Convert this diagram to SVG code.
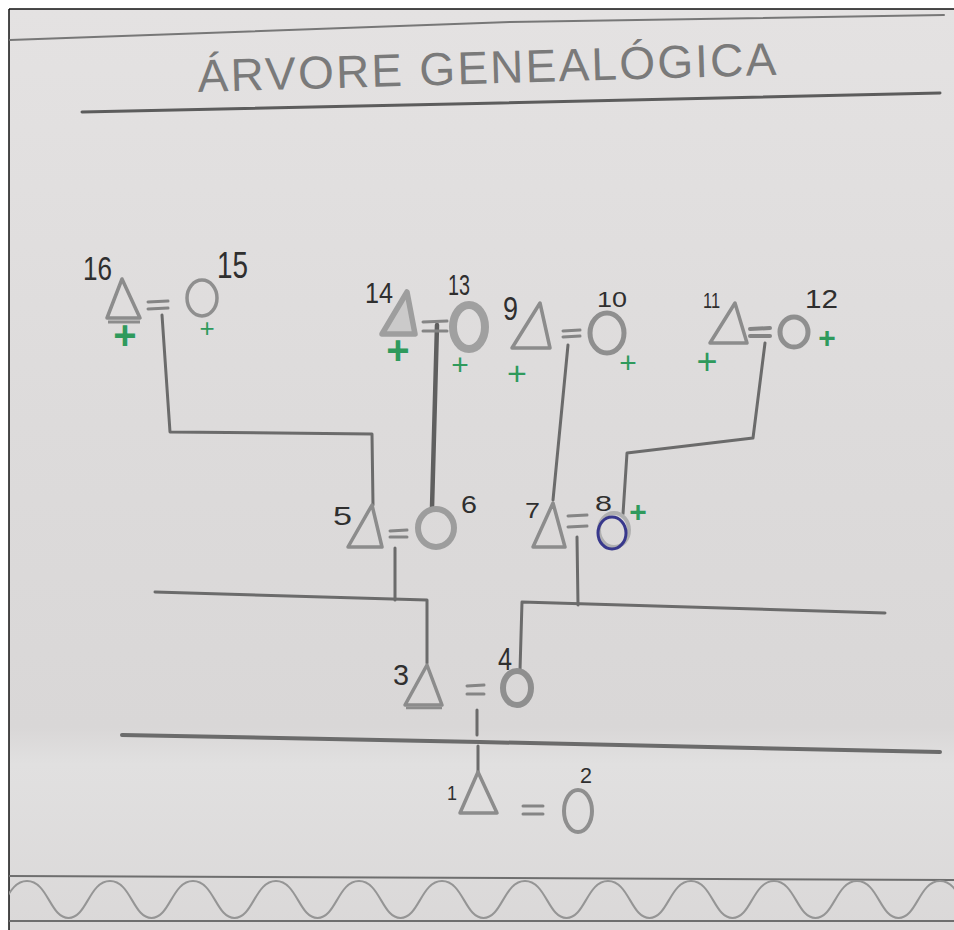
<svg xmlns="http://www.w3.org/2000/svg" width="954" height="930" viewBox="0 0 954 930">
<defs>
<linearGradient id="paper" x1="0" y1="0" x2="0" y2="1">
<stop offset="0" stop-color="#e4e2e2"/>
<stop offset="0.45" stop-color="#dddbdb"/>
<stop offset="0.78" stop-color="#d9d7d7"/>
<stop offset="0.82" stop-color="#e1e0e0"/>
<stop offset="1" stop-color="#dad8d8"/>
</linearGradient>
<clipPath id="pc"><rect x="9" y="9" width="945" height="921"/></clipPath>
<style>
.ln{fill:none;stroke:#6b6b6b;stroke-width:3;stroke-linecap:round;stroke-linejoin:round}
.tri{fill:none;stroke:#8c8c8c;stroke-width:3.5;stroke-linejoin:round}
.cir{fill:none;stroke:#8f8f8f}
.eq{stroke:#858585;stroke-width:3;stroke-linecap:round}
.lab{font-family:"Liberation Sans",Arial,sans-serif;fill:#2f2f2f}
.dead{font-family:"Liberation Sans",Arial,sans-serif;fill:#2f9a5c;text-anchor:middle}
.rule{fill:none;stroke:#5c5c5c;stroke-width:2.5;stroke-linecap:round}
</style>
</defs>
<rect width="954" height="930" fill="#ffffff"/>
<rect x="9" y="9" width="945" height="921" fill="url(#paper)"/>
<line x1="9" y1="9" x2="954" y2="9" stroke="#111" stroke-width="1.5"/>
<line x1="9" y1="9" x2="9" y2="930" stroke="#111" stroke-width="1.5"/>

<g id="title">
<polyline class="rule" points="10,40 150,35 510,22 944,15" style="stroke:#777;stroke-width:2"/>
<text x="198" y="92" transform="rotate(-1.7 198 92)" font-family="Liberation Sans, Arial, sans-serif" font-size="46" fill="#7a7a7a" textLength="579" lengthAdjust="spacing">ÁRVORE GENEALÓGICA</text>
<polyline class="rule" points="82,112 500,103 940,93" style="stroke-width:3"/>
</g>

<g id="connectors">
<polyline class="ln" points="162,315 170,432 372,434 373,505"/>
<polyline class="ln" points="437,325 432,508" style="stroke-width:4.5;stroke:#5f5f5f"/>
<polyline class="ln" points="568,345 553,500"/>
<polyline class="ln" points="765,343 753,438 627,453 623,514"/>
<polyline class="ln" points="395,548 395,600"/>
<polyline class="ln" points="155,592 427,600 427,663"/>
<polyline class="ln" points="577,537 578,605"/>
<polyline class="ln" points="520,670 522,602 885,613"/>
<polyline class="ln" points="477,710 477,735"/>
<polyline class="ln" points="122,735 480,742 940,752" style="stroke-width:4"/>
<polyline class="ln" points="478,746 478,772"/>
<line class="eq" x1="148" y1="302" x2="168" y2="301"/><line class="eq" x1="148" y1="309" x2="168" y2="308"/>
<line class="eq" x1="423" y1="322" x2="447" y2="321"/><line class="eq" x1="423" y1="331" x2="447" y2="331"/>
<line class="eq" x1="563" y1="331" x2="580" y2="330"/><line class="eq" x1="563" y1="337" x2="580" y2="336"/>
<line class="eq" x1="750" y1="329" x2="770" y2="328" style="stroke-width:4"/><line class="eq" x1="750" y1="336" x2="770" y2="336" style="stroke-width:4"/>
<line class="eq" x1="390" y1="531" x2="407" y2="530"/><line class="eq" x1="390" y1="537" x2="407" y2="537"/>
<line class="eq" x1="568" y1="516" x2="587" y2="515"/><line class="eq" x1="568" y1="527" x2="587" y2="526"/>
<line class="eq" x1="467" y1="686" x2="484" y2="685"/><line class="eq" x1="467" y1="694" x2="484" y2="694"/>
<line class="eq" x1="523" y1="806" x2="543" y2="806"/><line class="eq" x1="523" y1="814" x2="543" y2="814"/>
</g>

<g id="p16">
<polygon class="tri" points="122,279 140,318 107,318"/>
<line x1="108" y1="322" x2="140" y2="322" stroke="#8c8c8c" stroke-width="3"/>
<text class="lab" x="83" y="280" font-size="34" textLength="29" lengthAdjust="spacingAndGlyphs">16</text>
<text class="dead" x="125" y="349" font-size="40" font-weight="bold">+</text>
</g>
<g id="p15">
<ellipse class="cir" cx="202" cy="298" rx="15" ry="18" stroke-width="3.5"/>
<text class="lab" x="217" y="278" font-size="36" textLength="31" lengthAdjust="spacingAndGlyphs">15</text>
<text class="dead" x="207" y="337" font-size="26">+</text>
</g>
<g id="p14">
<polygon class="tri" points="407,292 415,334 382,334" style="fill:#cbcaca;stroke:#9e9e9e;stroke-width:5.5"/>
<text class="lab" x="365" y="303" font-size="30" textLength="28" lengthAdjust="spacingAndGlyphs">14</text>
<text class="dead" x="398" y="364" font-size="40" font-weight="bold">+</text>
</g>
<g id="p13">
<ellipse class="cir" cx="469" cy="327" rx="16" ry="22" stroke-width="8" style="stroke:#a0a0a0"/>
<text class="lab" x="448" y="295" font-size="30" textLength="22" lengthAdjust="spacingAndGlyphs">13</text>
<text class="dead" x="460" y="375" font-size="30">+</text>
</g>
<g id="p9">
<polygon class="tri" points="540,303 550,348 512,348"/>
<text class="lab" x="503" y="320" font-size="34" textLength="15" lengthAdjust="spacingAndGlyphs">9</text>
<text class="dead" x="517" y="385" font-size="34">+</text>
</g>
<g id="p10">
<ellipse class="cir" cx="607" cy="333" rx="17" ry="20" stroke-width="5"/>
<text class="lab" x="597" y="307" font-size="22" textLength="30" lengthAdjust="spacingAndGlyphs">10</text>
<text class="dead" x="628" y="373" font-size="30">+</text>
</g>
<g id="p11">
<polygon class="tri" points="735,303 747,343 710,343"/>
<text class="lab" x="703" y="308" font-size="22" textLength="17" lengthAdjust="spacingAndGlyphs">11</text>
<text class="dead" x="707" y="374" font-size="36">+</text>
</g>
<g id="p12">
<ellipse class="cir" cx="794" cy="332" rx="14" ry="15" stroke-width="5"/>
<text class="lab" x="805" y="308" font-size="26" textLength="33" lengthAdjust="spacingAndGlyphs">12</text>
<text class="dead" x="827" y="348" font-size="30" font-weight="bold">+</text>
</g>
<g id="p5">
<polygon class="tri" points="372,505 382,547 348,547"/>
<text class="lab" x="333" y="525" font-size="26" textLength="19" lengthAdjust="spacingAndGlyphs">5</text>
</g>
<g id="p6">
<ellipse class="cir" cx="436" cy="528" rx="18" ry="19" stroke-width="6" style="stroke:#9d9d9d"/>
<text class="lab" x="461" y="513" font-size="24" textLength="16" lengthAdjust="spacingAndGlyphs">6</text>
</g>
<g id="p7">
<polygon class="tri" points="553,503 565,547 533,547"/>
<text class="lab" x="525" y="518" font-size="22" textLength="15" lengthAdjust="spacingAndGlyphs">7</text>
</g>
<g id="p8">
<ellipse cx="614" cy="530" rx="15" ry="17" fill="none" stroke="#b0b0b0" stroke-width="4"/>
<ellipse cx="612" cy="533" rx="14" ry="16" fill="none" stroke="#38388c" stroke-width="3"/>
<text class="lab" x="595" y="511" font-size="22" textLength="17" lengthAdjust="spacingAndGlyphs">8</text>
<text class="dead" x="638" y="522" font-size="30" font-weight="bold">+</text>
</g>
<g id="p3">
<polygon class="tri" points="427,665 442,705 405,705"/>
<line x1="406" y1="708" x2="442" y2="708" stroke="#8c8c8c" stroke-width="2.5"/>
<text class="lab" x="393" y="685" font-size="30" textLength="16" lengthAdjust="spacingAndGlyphs">3</text>
</g>
<g id="p4">
<ellipse class="cir" cx="517" cy="688" rx="14" ry="17" stroke-width="6"/>
<text class="lab" x="498" y="670" font-size="32" textLength="14" lengthAdjust="spacingAndGlyphs">4</text>
</g>
<g id="p1">
<polygon class="tri" points="478,772 497,813 460,813"/>
<text class="lab" x="447" y="800" font-size="20" textLength="10" lengthAdjust="spacingAndGlyphs">1</text>
</g>
<g id="p2">
<ellipse class="cir" cx="578" cy="811" rx="14" ry="21" stroke-width="4"/>
<text class="lab" x="580" y="783" font-size="22" textLength="12" lengthAdjust="spacingAndGlyphs">2</text>
</g>

<g id="border-band" clip-path="url(#pc)">
<line x1="9" y1="876" x2="954" y2="880" stroke="#6e6e6e" stroke-width="2"/>
<line x1="9" y1="921" x2="954" y2="921" stroke="#6e6e6e" stroke-width="2"/>
<path fill="none" stroke="#959595" stroke-width="2" d="M -14.5,918 C 4,918 6,881 27,881 C 48,881 50,918 68.5,918 C 87,918 89,881 110,881 C 131,881 133,918 151.5,918 C 170,918 172,881 193,881 C 214,881 216,918 234.5,918 C 253,918 255,881 276,881 C 297,881 299,918 317.5,918 C 336,918 338,881 359,881 C 380,881 382,918 400.5,918 C 419,918 421,881 442,881 C 463,881 465,918 483.5,918 C 502,918 504,881 525,881 C 546,881 548,918 566.5,918 C 585,918 587,881 608,881 C 629,881 631,918 649.5,918 C 668,918 670,881 691,881 C 712,881 714,918 732.5,918 C 751,918 753,881 774,881 C 795,881 797,918 815.5,918 C 834,918 836,881 857,881 C 878,881 880,918 898.5,918 C 917,918 919,881 940,881 C 961,881 963,918 981.5,918"/>
</g>
</svg>
